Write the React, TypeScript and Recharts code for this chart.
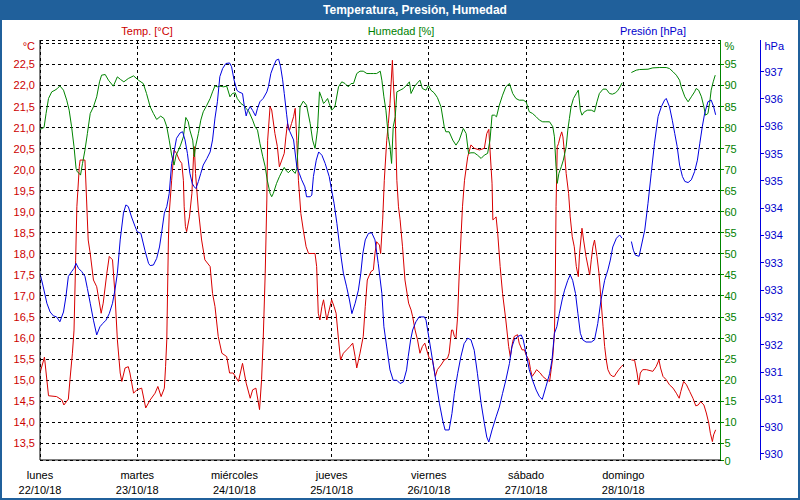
import React from "react";
import { LineChart, Line, XAxis, YAxis, CartesianGrid } from "recharts";

// Días y fechas del eje X (horas desde el lunes 00:00)
const dias = ["lunes", "martes", "miércoles", "jueves", "viernes", "sábado", "domingo"];
const fechas = ["22/10/18", "23/10/18", "24/10/18", "25/10/18", "26/10/18", "27/10/18", "28/10/18"];
const horasDia = [0, 24, 48, 72, 96, 120, 144];

// Rangos de los tres ejes
const TEMP_DOM: [number, number] = [13.103, 23.083];
const HUM_DOM: [number, number] = [1.03, 100.83];
const PRES_DOM: [number, number] = [929.39, 937.08];

const ticksTemp = [13.5, 14, 14.5, 15, 15.5, 16, 16.5, 17, 17.5, 18, 18.5, 19, 19.5, 20, 20.5, 21, 21.5, 22, 22.5, 23];
const ticksHum = [1.03, 5, 10, 15, 20, 25, 30, 35, 40, 45, 50, 55, 60, 65, 70, 75, 80, 85, 90, 95, 100];
const ticksPres = [929.5, 930, 930.5, 931, 931.5, 932, 932.5, 933, 933.5, 934, 934.5, 935, 935.5, 936, 936.5, 937];

// [hora, valor]; null = sin datos
const temperatura: [number, number | null][] = [
  [0, 15.17], [1.1, 15.55], [2.1, 14.63], [4.1, 14.61], [5.4, 14.53], [5.9, 14.41], [7.0, 14.55], [7.4, 15.01],
  [8.0, 15.64], [8.4, 16.19], [8.8, 17.85], [9.1, 19.12], [9.7, 20.07], [9.9, 20.23], [11.1, 20.23], [11.4, 19.52],
  [11.9, 18.33], [12.4, 18.01], [13.2, 17.38], [14.0, 17.22], [14.4, 16.99], [15.1, 16.59], [15.6, 16.83], [16.5, 17.54],
  [17.1, 17.94], [17.9, 17.86], [18.5, 17.06], [19.1, 15.96], [19.8, 15.17], [20.2, 14.97], [21.0, 15.29], [21.8, 15.32],
  [22.2, 15.17], [23.1, 14.69], [23.9, 14.77], [25.1, 14.81], [26.1, 14.34], [27.2, 14.53], [28.4, 14.69], [29.1, 14.85],
  [29.9, 14.61], [30.7, 14.81], [31.0, 15.32], [31.3, 15.96], [31.7, 18.33], [31.9, 18.96], [32.5, 19.75], [33.1, 20.47],
  [33.7, 20.39], [34.4, 20.23], [35.0, 20.15], [35.4, 19.75], [35.6, 19.12], [35.9, 18.65], [36.2, 18.53], [36.9, 18.88],
  [37.5, 19.44], [37.9, 20.31], [38.1, 20.55], [38.4, 19.91], [39.1, 19.04], [39.9, 18.33], [40.7, 17.86], [42.0, 17.7],
  [42.6, 17.06], [43.2, 16.75], [44.0, 16.04], [44.9, 15.64], [46.1, 15.56], [46.8, 15.17], [47.7, 15.17], [49.0, 14.97],
  [50.0, 15.4], [50.9, 14.93], [51.9, 14.57], [52.5, 14.77], [53.3, 14.81], [54.2, 14.3], [54.7, 15.01], [55.1, 15.96],
  [55.6, 17.54], [56.0, 19.28], [56.2, 20.7], [56.8, 21.5], [57.2, 21.42], [58.0, 20.86], [58.6, 20.55], [59.1, 20.07],
  [59.7, 20.23], [60.3, 20.39], [60.7, 20.78], [61.1, 21.1], [61.6, 20.94], [62.1, 21.1], [62.6, 21.26], [63.0, 21.46],
  [63.4, 20.7], [63.8, 19.75], [64.4, 18.96], [65.0, 18.57], [65.7, 18.17], [66.3, 18.01], [67.9, 18.01], [68.3, 17.7],
  [68.7, 16.59], [69.1, 16.43], [69.6, 16.75], [70.0, 16.91], [70.4, 16.67], [70.8, 16.43], [71.2, 16.59], [72.0, 16.91],
  [72.6, 16.75], [73.1, 16.59], [73.7, 15.96], [74.2, 15.48], [74.9, 15.64], [75.7, 15.72], [76.5, 15.8], [77.2, 15.88],
  [77.8, 15.56], [78.2, 15.29], [79.0, 15.64], [79.8, 16.04], [80.3, 16.75], [80.8, 17.38], [81.7, 17.58], [82.3, 17.62],
  [82.7, 18.01], [83.1, 18.29], [83.8, 18.21], [84.1, 18.01], [84.6, 18.81], [85.0, 19.75], [85.6, 20.7], [86.0, 21.1],
  [86.4, 21.57], [87.0, 22.6], [87.2, 22.13], [87.7, 21.26], [88.1, 19.75], [88.5, 19.12], [88.9, 18.81], [89.5, 18.17],
  [90.1, 17.38], [91.0, 16.83], [91.6, 16.67], [92.0, 16.51], [92.6, 16.19], [93.2, 15.96], [93.8, 15.64], [94.4, 15.8],
  [95.0, 15.88], [95.7, 15.64], [96.1, 15.52], [96.9, 15.48], [97.6, 15.09], [98.1, 15.25], [99.0, 15.36], [99.8, 15.48],
  [100.6, 15.52], [101.0, 15.64], [101.6, 16.19], [101.9, 16.19], [102.3, 16.04], [102.7, 16.0], [103.1, 16.51], [103.5, 17.54],
  [103.9, 18.33], [104.3, 19.12], [104.8, 19.75], [105.6, 20.31], [106.4, 20.59], [107.2, 20.51], [108.5, 20.47], [109.7, 20.51],
  [110.3, 20.86], [110.8, 20.96], [111.1, 20.47], [111.6, 19.68], [111.8, 18.81], [112.2, 18.84], [112.6, 18.88], [113.0, 18.49],
  [113.6, 17.7], [114.2, 17.06], [115.0, 16.43], [115.7, 15.8], [116.1, 15.56], [116.7, 15.92], [117.1, 16.04], [117.9, 16.08],
  [118.3, 15.88], [119.0, 15.72], [119.6, 15.72], [120.0, 15.6], [120.7, 15.48], [121.1, 15.25], [121.5, 15.09], [122.1, 15.17],
  [122.6, 15.25], [123.5, 15.17], [124.1, 15.09], [125.1, 15.01], [125.8, 14.97], [126.2, 15.25], [126.6, 15.56], [127.0, 16.12],
  [127.2, 17.14], [127.4, 19.12], [127.7, 20.55], [128.0, 20.62], [128.4, 20.78], [128.8, 20.9], [129.1, 20.78], [129.5, 20.39],
  [129.9, 19.91], [130.5, 19.44], [130.9, 18.88], [131.4, 18.41], [131.9, 18.17], [132.4, 17.7], [132.9, 17.46], [133.2, 18.01],
  [133.8, 18.61], [134.2, 18.33], [134.8, 17.94], [135.7, 17.5], [136.1, 17.86], [136.5, 18.17], [136.9, 18.33], [137.5, 17.94],
  [138.0, 17.54], [138.5, 16.91], [139.0, 16.27], [139.4, 15.8], [139.8, 15.48], [140.2, 15.25], [140.8, 15.13], [141.4, 15.09],
  [141.8, 15.09], [142.3, 15.17], [142.9, 15.25], [143.5, 15.32], [143.9, 15.36], [145, null], [146.0, 15.48], [146.8, 15.47],
  [147.4, 15.17], [147.8, 14.89], [148.2, 15.17], [148.8, 15.25], [149.7, 15.25], [151.3, 15.21], [152.1, 15.32], [152.8, 15.48],
  [153.2, 15.29], [153.8, 15.09], [154.6, 15.01], [155.4, 14.89], [156.3, 14.81], [157.1, 14.69], [157.8, 14.57], [158.2, 14.73],
  [158.9, 14.97], [159.6, 14.89], [160.4, 14.73], [161.2, 14.57], [161.9, 14.39], [162.5, 14.41], [163.1, 14.49], [163.9, 14.41],
  [164.5, 14.22], [165.1, 13.98], [165.5, 13.74], [166.0, 13.54], [166.3, 13.7], [166.8, 13.82],
];

const humedad: [number, number | null][] = [
  [0, 79.57], [1.0, 80.05], [1.5, 83.37], [2.1, 86.93], [2.9, 88.51], [3.7, 88.91], [4.3, 89.3], [4.9, 89.94],
  [5.8, 88.91], [6.6, 86.53], [7.2, 84.16], [7.8, 80.21], [8.4, 75.46], [8.9, 70.32], [9.2, 69.53], [9.7, 69.13],
  [10.0, 68.73], [10.5, 71.5], [11.1, 74.67], [11.7, 78.62], [12.4, 83.37], [13.2, 84.95], [14.0, 87.33], [14.7, 90.89],
  [15.2, 92.47], [16.1, 92.63], [16.9, 91.28], [18.1, 89.86], [19.1, 92.07], [19.9, 91.44], [20.7, 90.89], [21.8, 91.68],
  [23.1, 92.31], [24.3, 91.28], [25.5, 90.49], [26.3, 88.12], [27.2, 84.95], [28.0, 83.37], [28.8, 81.95], [29.8, 82.74],
  [30.6, 82.18], [31.3, 80.21], [31.9, 77.04], [32.5, 73.48], [33.1, 71.11], [33.6, 73.48], [34.2, 74.67], [34.7, 75.85],
  [35.4, 77.83], [36.0, 82.42], [36.6, 81.39], [37.0, 79.41], [37.7, 77.04], [38.1, 73.09], [38.4, 75.46], [39.1, 78.62],
  [39.7, 81.79], [40.3, 83.77], [41.2, 85.35], [42.0, 86.93], [42.6, 88.51], [43.2, 89.94], [43.8, 89.7], [44.4, 89.86],
  [45.3, 89.7], [46.1, 89.86], [46.9, 87.33], [47.5, 88.12], [48.2, 88.28], [48.7, 86.93], [49.6, 85.74], [50.2, 85.35],
  [50.9, 84.56], [51.6, 83.77], [52.5, 81.79], [53.1, 80.21], [53.7, 79.41], [54.3, 76.25], [55.0, 73.09], [55.6, 70.71],
  [56.1, 67.55], [56.8, 64.38], [57.2, 63.59], [57.6, 64.38], [58.4, 66.76], [59.1, 68.34], [59.7, 69.53], [60.3, 70.55],
  [60.7, 69.92], [61.3, 69.29], [62.1, 70.08], [63.0, 69.13], [63.4, 70.32], [63.8, 77.04], [64.2, 84.95], [65.0, 86.3],
  [65.8, 85.35], [66.7, 81.0], [67.3, 77.04], [67.9, 75.06], [68.5, 79.41], [69.0, 88.51], [69.6, 86.93], [70.0, 85.74],
  [70.4, 86.14], [71.0, 86.93], [71.4, 85.74], [72.0, 84.16], [72.8, 84.95], [73.7, 89.7], [74.5, 90.89], [75.3, 90.49],
  [76.1, 89.7], [76.8, 90.49], [77.4, 90.49], [78.2, 92.86], [79.0, 93.42], [79.8, 93.42], [80.7, 92.86], [81.5, 92.86],
  [82.3, 92.86], [83.1, 92.86], [84.0, 93.42], [84.4, 91.28], [84.9, 87.33], [85.4, 84.16], [86.0, 77.83], [86.4, 75.46],
  [86.8, 71.5], [87.2, 80.21], [87.7, 82.58], [88.1, 88.51], [88.9, 88.91], [89.7, 89.3], [90.5, 90.09], [91.2, 90.89],
  [91.6, 88.12], [92.4, 89.7], [93.2, 90.65], [93.8, 91.28], [94.4, 89.3], [95.3, 88.91], [95.9, 90.09], [96.5, 88.91],
  [97.3, 88.28], [98.1, 87.17], [99.0, 84.95], [99.8, 80.21], [100.2, 79.02], [101.0, 79.02], [101.9, 77.04], [102.7, 75.85],
  [103.5, 77.04], [104.5, 79.81], [105.2, 78.62], [105.8, 73.88], [106.4, 74.03], [107.2, 74.03], [108.0, 73.48], [108.9, 72.69],
  [109.7, 73.48], [110.5, 73.88], [111.1, 77.04], [111.6, 82.97], [112.2, 82.97], [112.7, 82.58], [113.4, 85.35], [114.2, 87.72],
  [115.0, 89.7], [115.9, 90.49], [116.7, 88.12], [117.5, 86.93], [118.3, 86.53], [119.3, 86.53], [120.0, 86.14], [120.8, 83.77],
  [121.6, 83.37], [122.5, 82.58], [123.3, 81.79], [124.1, 81.39], [124.9, 81.39], [125.8, 81.39], [126.6, 80.21], [127.0, 77.83],
  [127.4, 70.71], [127.7, 66.76], [128.1, 69.13], [128.7, 70.71], [129.2, 72.29], [129.9, 75.46], [130.3, 79.41], [130.7, 82.18],
  [131.1, 84.95], [131.7, 86.93], [132.4, 88.12], [132.9, 88.91], [133.4, 84.16], [133.8, 82.97], [134.4, 83.77], [135.2, 84.16],
  [136.1, 84.16], [136.9, 83.77], [137.5, 86.14], [138.1, 88.12], [139.0, 89.15], [139.8, 89.15], [140.6, 88.12], [141.3, 87.96],
  [142.1, 88.28], [142.7, 88.91], [143.2, 89.7], [143.7, 90.65], [145, null], [146.0, 93.1], [147.2, 93.66], [148.0, 93.81],
  [150.1, 93.89], [151.3, 94.21], [153.0, 94.29], [154.6, 94.29], [155.4, 94.05], [156.3, 93.26], [157.1, 92.47], [157.9, 91.28],
  [158.3, 89.7], [159.2, 87.33], [160.0, 86.14], [160.8, 87.33], [161.6, 88.51], [162.0, 89.3], [162.6, 88.91], [163.3, 87.33],
  [163.9, 84.95], [164.3, 82.97], [164.9, 83.37], [165.3, 85.74], [165.7, 88.91], [166.2, 90.89], [166.7, 92.47],
];

const presion: [number, number | null][] = [
  [0, 932.81], [0.8, 932.56], [1.7, 932.26], [2.5, 932.1], [3.3, 932.03], [4.1, 932.01], [4.9, 931.92], [5.8, 932.1],
  [6.4, 932.38], [7.0, 932.75], [7.8, 932.84], [8.4, 932.9], [8.9, 932.99], [9.5, 932.9], [10.3, 932.84], [11.1, 932.75],
  [11.7, 932.53], [12.4, 932.26], [13.2, 931.95], [14.0, 931.68], [14.8, 931.83], [15.5, 931.89], [16.3, 931.95], [17.1, 932.07],
  [17.9, 932.26], [18.5, 932.5], [19.1, 932.81], [19.8, 933.42], [20.6, 933.91], [21.2, 934.06], [21.8, 934.03], [22.6, 933.84],
  [23.5, 933.66], [24.0, 933.57], [24.9, 933.54], [25.9, 933.23], [26.8, 932.99], [27.2, 932.95], [28.0, 932.96], [28.8, 933.08],
  [29.5, 933.29], [30.0, 933.54], [30.7, 933.91], [31.3, 934.03], [31.9, 934.27], [32.5, 934.82], [33.1, 935.03], [33.7, 935.28],
  [34.6, 935.38], [35.2, 935.4], [35.8, 935.25], [36.4, 935.0], [37.0, 934.64], [37.6, 934.45], [38.1, 934.39], [38.5, 934.36],
  [39.1, 934.49], [39.7, 934.64], [40.3, 934.79], [41.2, 934.91], [42.0, 935.03], [42.6, 935.25], [43.2, 935.65], [43.8, 935.95],
  [44.4, 936.41], [45.1, 936.56], [45.9, 936.65], [46.8, 936.66], [47.3, 936.59], [47.9, 936.35], [48.6, 936.16], [49.1, 936.13],
  [50.0, 936.1], [50.4, 935.89], [50.9, 935.69], [51.2, 935.77], [51.9, 935.86], [52.5, 935.79], [53.2, 935.69], [53.7, 935.83],
  [54.3, 935.95], [55.1, 936.01], [56.0, 936.13], [56.4, 936.23], [57.0, 936.47], [57.6, 936.59], [58.3, 936.71], [58.9, 936.73],
  [59.4, 936.59], [59.9, 936.35], [60.3, 936.1], [60.9, 935.71], [61.3, 935.46], [61.7, 935.4], [62.6, 935.25], [63.4, 934.76],
  [64.0, 934.64], [64.6, 934.52], [65.4, 934.39], [65.8, 934.21], [66.7, 934.21], [67.1, 934.24], [67.5, 934.58], [68.2, 934.88],
  [68.8, 935.03], [69.6, 934.97], [70.4, 934.82], [71.4, 934.58], [72.0, 934.33], [72.6, 934.09], [73.3, 933.72], [74.1, 933.23],
  [74.9, 932.81], [75.7, 932.56], [76.4, 932.32], [77.0, 932.07], [77.8, 932.26], [78.6, 932.5], [79.2, 932.81], [79.7, 933.17],
  [80.3, 933.42], [81.1, 933.54], [81.9, 933.55], [82.7, 933.42], [83.5, 932.99], [84.4, 932.44], [84.9, 931.83], [85.6, 931.46],
  [86.4, 931.04], [87.2, 930.85], [88.1, 930.85], [88.9, 930.79], [89.7, 930.82], [90.5, 931.04], [90.9, 931.28], [91.5, 931.59],
  [92.0, 931.77], [92.8, 931.92], [93.6, 932.01], [94.9, 932.01], [95.3, 931.95], [96.1, 931.59], [96.9, 931.22], [97.7, 930.85],
  [98.6, 930.43], [99.4, 930.12], [100.0, 929.94], [101.0, 929.94], [101.7, 930.24], [102.3, 930.61], [103.1, 930.97], [103.9, 931.28],
  [104.7, 931.52], [105.6, 931.62], [106.4, 931.59], [107.2, 931.4], [108.0, 930.97], [108.9, 930.43], [109.7, 930.06], [110.3, 929.81],
  [110.8, 929.72], [111.6, 929.94], [112.6, 930.18], [113.4, 930.36], [114.2, 930.61], [115.0, 930.85], [115.9, 931.16], [116.5, 931.46],
  [117.1, 931.59], [117.9, 931.65], [118.8, 931.68], [119.3, 931.59], [120.0, 931.34], [120.8, 931.04], [121.6, 930.85], [122.5, 930.67],
  [123.3, 930.55], [124.0, 930.5], [124.9, 930.73], [125.8, 930.97], [126.4, 931.22], [127.0, 931.71], [127.6, 931.83], [128.2, 932.07],
  [128.9, 932.32], [129.5, 932.5], [130.3, 932.68], [130.9, 932.78], [131.5, 932.68], [132.2, 932.44], [132.8, 932.07], [133.4, 931.71],
  [134.0, 931.59], [134.8, 931.55], [136.1, 931.55], [136.9, 931.59], [137.7, 931.89], [138.5, 932.32], [139.4, 932.68], [140.2, 932.87],
  [140.8, 933.05], [141.4, 933.29], [142.3, 933.45], [143.1, 933.51], [143.7, 933.45], [145, null], [146.0, 933.39], [146.5, 933.23],
  [147.0, 933.14], [147.9, 933.12], [148.4, 933.29], [149.3, 933.6], [150.1, 934.09], [150.9, 934.64], [151.7, 935.19], [152.6, 935.68],
  [153.4, 935.86], [154.2, 935.98], [154.6, 936.01], [155.4, 935.86], [156.1, 935.61], [156.7, 935.37], [157.3, 935.13], [157.9, 934.79],
  [158.6, 934.58], [159.2, 934.49], [160.0, 934.47], [160.8, 934.52], [161.6, 934.67], [162.3, 934.88], [162.9, 935.19], [163.5, 935.49],
  [164.1, 935.74], [164.9, 935.95], [165.7, 935.98], [166.3, 935.86], [166.8, 935.71],
];

const FONT = "'Liberation Sans', Arial, sans-serif";
const FRAME = "#20609b";
const RED = "#d80000";
const GREEN = "#008400";
const BLUE = "#0000e0";

const toRows = (arr: [number, number | null][]) => arr.map(([h, v]) => ({ h, v }));

const TempTick = ({ x, y, payload }: any) => {
  const v = payload.value;
  const top = v >= 23;
  return (
    <text x={x} y={y + (top ? 2.5 : 0)} dy="0.355em" textAnchor="end" fill="#cc0000" fontSize={11} fontFamily={FONT}>
      {top ? "°C" : v.toFixed(1).replace(".", ",")}
    </text>
  );
};

const HumTick = ({ x, y, payload }: any) => {
  const v = payload.value;
  const top = v >= 100;
  const bottom = v < 2;
  const label = top ? "%" : bottom ? "0" : String(v);
  return (
    <g>
      {!top && <line x1={x - 4} x2={x - 1} y1={y} y2={y} stroke={GREEN} shapeRendering="crispEdges" />}
      <text x={x} y={y + (top ? 2.5 : bottom ? 1.5 : 0)} dy="0.355em" textAnchor="start" fill="#008000" fontSize={11} fontFamily={FONT}>
        {label}
      </text>
    </g>
  );
};

const PresTick = ({ x, y, payload }: any) => {
  const v = payload.value;
  const top = v >= 937;
  return (
    <g>
      {!top && <line x1={x - 4} x2={x - 1} y1={y} y2={y} stroke={BLUE} shapeRendering="crispEdges" />}
      <text x={x} y={y + (top ? 1.5 : 0)} dy="0.355em" textAnchor="start" fill="#0000cc" fontSize={11} fontFamily={FONT}>
        {top ? "hPa" : String(Math.round(v))}
      </text>
    </g>
  );
};

const DayTick = ({ x, y, payload }: any) => {
  const i = horasDia.indexOf(payload.value);
  if (i < 0) return null;
  return (
    <text x={x} y={y} textAnchor="middle" fill="#000" fontSize={11} fontFamily={FONT}>
      <tspan x={x} dy={19}>{dias[i]}</tspan>
      <tspan x={x} dy={15}>{fechas[i]}</tspan>
    </text>
  );
};

const labelStyle = (center: number, color: string): React.CSSProperties => ({
  position: "absolute",
  top: 24,
  left: center,
  transform: "translateX(-50%)",
  whiteSpace: "nowrap",
  lineHeight: "14px",
  fontSize: 11,
  fontFamily: FONT,
  color,
});

export default function App() {
  const tempRows = toRows(temperatura);
  const humRows = toRows(humedad);
  const presRows = toRows(presion);

  return (
    <div style={{ position: "absolute", left: 0, top: 0, width: 800, height: 500, background: "#fff", overflow: "hidden" }}>
      <LineChart width={800} height={500} margin={{ top: 40, right: 1.5, bottom: 0, left: 0 }}>
        <CartesianGrid
          xAxisId="b"
          yAxisId="t"
          stroke="#000"
          strokeDasharray="3 3"
          shapeRendering="crispEdges"
        />
        <XAxis
          xAxisId="b"
          dataKey="h"
          type="number"
          domain={[0, 168]}
          ticks={horasDia}
          allowDataOverflow
          height={40}
          tickSize={0}
          tickMargin={0}
          tickLine={false}
          axisLine={{ stroke: "#000" }}
          tick={(p: any) => <DayTick {...p} />}
          interval={0}
        />
        <XAxis
          xAxisId="top"
          orientation="top"
          type="number"
          domain={[0, 168]}
          height={0}
          tick={false}
          tickLine={false}
          axisLine={{ stroke: "#000" }}
        />
        <YAxis
          yAxisId="t"
          orientation="left"
          type="number"
          domain={TEMP_DOM}
          ticks={ticksTemp}
          allowDataOverflow
          width={40}
          tickSize={0}
          tickMargin={5}
          tickLine={false}
          axisLine={{ stroke: "#000" }}
          tick={(p: any) => <TempTick {...p} />}
          interval={0}
        />
        <YAxis
          yAxisId="hum"
          orientation="right"
          type="number"
          domain={HUM_DOM}
          ticks={ticksHum}
          allowDataOverflow
          width={40}
          tickSize={3}
          tickMargin={1}
          tickLine={false}
          axisLine={{ stroke: GREEN }}
          tick={(p: any) => <HumTick {...p} />}
          interval={0}
        />
        <YAxis
          yAxisId="pres"
          orientation="right"
          type="number"
          domain={PRES_DOM}
          ticks={ticksPres}
          allowDataOverflow
          width={38}
          tickSize={3}
          tickMargin={1}
          tickLine={false}
          axisLine={{ stroke: BLUE }}
          tick={(p: any) => <PresTick {...p} />}
          interval={0}
        />
        <Line
          data={tempRows}
          dataKey="v"
          xAxisId="b"
          yAxisId="t"
          type="linear"
          stroke={RED}
          strokeWidth={1}
          dot={false}
          activeDot={false}
          connectNulls={false}
          isAnimationActive={false}
        />
        <Line
          data={humRows}
          dataKey="v"
          xAxisId="b"
          yAxisId="hum"
          type="linear"
          stroke={GREEN}
          strokeWidth={1}
          dot={false}
          activeDot={false}
          connectNulls={false}
          isAnimationActive={false}
        />
        <Line
          data={presRows}
          dataKey="v"
          xAxisId="b"
          yAxisId="pres"
          type="linear"
          stroke={BLUE}
          strokeWidth={1}
          dot={false}
          activeDot={false}
          connectNulls={false}
          isAnimationActive={false}
        />
      </LineChart>

      {/* barra de título */}
      <div
        style={{
          position: "absolute",
          left: 0,
          top: 0,
          width: 800,
          height: 20,
          background: FRAME,
        }}
      >
        <div
          style={{
            position: "absolute",
            left: 415,
            top: 0,
            transform: "translateX(-50%)",
            whiteSpace: "nowrap",
            lineHeight: "20px",
            fontSize: 12,
            fontWeight: "bold",
            fontFamily: FONT,
            color: "#fff",
          }}
        >
          Temperatura, Presión, Humedad
        </div>
      </div>

      <div style={labelStyle(147, "#cc0000")}>Temp. [°C]</div>
      <div style={labelStyle(401, "#008000")}>Humedad [%]</div>
      <div style={labelStyle(653, "#0000cc")}>Presión [hPa]</div>

      {/* marco */}
      <div
        style={{
          position: "absolute",
          left: 0,
          top: 0,
          width: 800,
          height: 500,
          boxSizing: "border-box",
          border: `2px solid ${FRAME}`,
          pointerEvents: "none",
        }}
      />
    </div>
  );
}
